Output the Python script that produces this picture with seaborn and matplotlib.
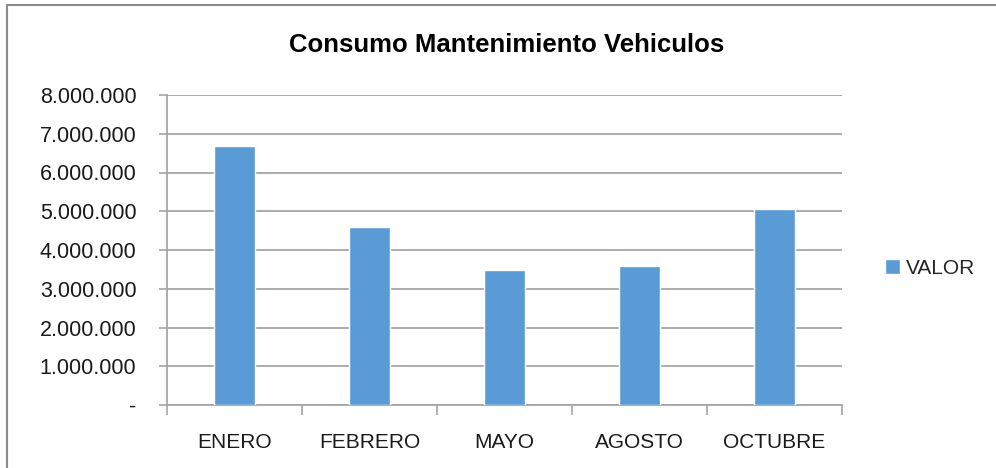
import numpy as np
import pandas as pd
import matplotlib
matplotlib.use('Agg')
import matplotlib.pyplot as plt
import matplotlib.ticker as mticker
from matplotlib.lines import Line2D
import seaborn as sns

# Datos del grafico
meses = ['ENERO', 'FEBRERO', 'MAYO', 'AGOSTO', 'OCTUBRE']
valor = [6690000, 4600000, 3480000, 3600000, 5060000]
titulo = 'Consumo Mantenimiento Vehiculos'
serie = 'VALOR'

df = pd.DataFrame({'Mes': meses, 'Valor': valor})

sns.set_theme(style='white')
plt.rcParams['font.family'] = ['Liberation Sans', 'DejaVu Sans']

W, H = 996, 468
fig = plt.figure(figsize=(W / 100, H / 100), dpi=100)
# area de trazado: x 167..842 px, y 95..405 px
ax = fig.add_axes([167 / W, 1 - 405 / H, (842 - 167) / W, (405 - 95) / H])

sns.barplot(data=df, x='Mes', y='Valor', color='#5B9BD5', width=0.3,
            saturation=1, label=serie, ax=ax, zorder=3)

ax.set_ylim(0, 8000000)
ax.set_xlim(-0.5, len(meses) - 0.5)
ax.set_yticks(np.arange(0, 8000001, 1000000))


def fmt(v, pos):
    if v == 0:
        return '-'
    return f'{int(v):,}'.replace(',', '.')


ax.yaxis.set_major_formatter(mticker.FuncFormatter(fmt))
ax.yaxis.grid(True, color='#A6A6A6', linewidth=1.3, zorder=0)
ax.set_axisbelow(True)

# ticks entre categorias, etiquetas centradas
ax.set_xticks(np.arange(len(meses) + 1) - 0.5)
ax.set_xticklabels([])
ax.set_xticks(np.arange(len(meses)), minor=True)
ax.set_xticklabels(meses, minor=True)
ax.tick_params(axis='x', which='major', length=7, width=1.2, color='#A6A6A6', direction='out', bottom=True)
ax.tick_params(axis='x', which='minor', length=0, pad=20, labelsize=15, labelcolor='#1a1a1a')
ax.tick_params(axis='y', length=6, width=1.2, color='#A6A6A6', direction='out', left=True,
               labelsize=15.5, labelcolor='#1a1a1a', pad=16)

for s in ['top', 'right']:
    ax.spines[s].set_visible(False)
for s in ['left', 'bottom']:
    ax.spines[s].set_color('#A6A6A6')
    ax.spines[s].set_linewidth(1.3)

ax.set_xlabel('')
ax.set_ylabel('')

fig.text(507 / W, 1 - 45 / H, titulo, ha='center', va='center', fontsize=18.5, fontweight='bold',
         family=['Liberation Sans Narrow', 'Liberation Sans', 'DejaVu Sans'], color='black')

fig.legend(handles=ax.get_legend_handles_labels()[0], labels=[serie], loc='center left',
           bbox_to_anchor=(877 / W, 1 - 268 / H), frameon=False, fontsize=15,
           handlelength=0.7, handleheight=0.7, handletextpad=0.3, borderaxespad=0)
if ax.get_legend() is not None:
    ax.get_legend().remove()

# borde del grafico (solo arriba e izquierda visibles)
fig.add_artist(Line2D([7 / W, 7 / W], [0, 1 - 5 / H], transform=fig.transFigure,
                      color='#8C8C8C', linewidth=1.5))
fig.add_artist(Line2D([7 / W, 1], [1 - 5 / H, 1 - 5 / H], transform=fig.transFigure,
                      color='#8C8C8C', linewidth=1.5))

fig.savefig('out.png', dpi=100)
